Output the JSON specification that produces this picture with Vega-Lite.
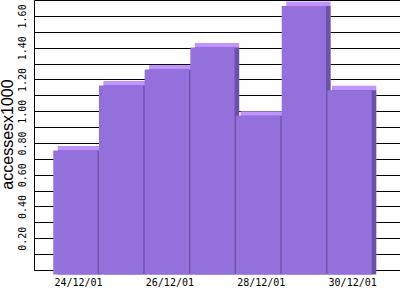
{
  "$schema": "https://vega.github.io/schema/vega-lite/v6.json",
  "width": 366,
  "height": 270,
  "autosize": {"type": "none"},
  "padding": {"left": 34, "top": 0, "right": 0, "bottom": 30},
  "background": "white",
  "config": {"view": {"stroke": null}},
  "data": {
    "values": [
      {"date": "24/12/01", "value": 0.78},
      {"date": "25/12/01", "value": 1.19},
      {"date": "26/12/01", "value": 1.29},
      {"date": "27/12/01", "value": 1.43},
      {"date": "28/12/01", "value": 1.0},
      {"date": "29/12/01", "value": 1.69},
      {"date": "30/12/01", "value": 1.16}
    ]
  },
  "encoding": {
    "x": {
      "field": "date",
      "type": "ordinal",
      "sort": null,
      "scale": {"type": "band", "paddingInner": 0.03, "paddingOuter": 0.52},
      "axis": {
        "title": null,
        "values": ["24/12/01", "26/12/01", "28/12/01", "30/12/01"],
        "ticks": false,
        "domainColor": "black",
        "domainWidth": 1,
        "labelAngle": 0,
        "labelAlign": "left",
        "labelOffset": -25.5,
        "labelPadding": 7,
        "labelFont": "DejaVu Sans Mono",
        "labelFontSize": 10,
        "labelColor": "black",
        "grid": false
      }
    },
    "y": {
      "field": "value",
      "type": "quantitative",
      "scale": {"domain": [0, 1.7], "nice": false},
      "axis": {
        "title": "accessesx1000",
        "titleFont": "Liberation Sans",
        "titleFontSize": 16,
        "titleFontWeight": "normal",
        "titleColor": "black",
        "titleAngle": 270,
        "titleX": -27,
        "titleY": 134,
        "titleAlign": "center",
        "titleBaseline": "middle",
        "values": [0.1, 0.2, 0.3, 0.4, 0.5, 0.6, 0.7, 0.8, 0.9, 1.0, 1.1, 1.2, 1.3, 1.4, 1.5, 1.6, 1.7],
        "format": ".2f",
        "labelExpr": "indexof(['0.20','0.40','0.60','0.80','1.00','1.20','1.40','1.60'], datum.label) >= 0 ? datum.label : ''",
        "labelAngle": 270,
        "labelAlign": "center",
        "labelBaseline": "bottom",
        "labelPadding": 7,
        "labelFont": "DejaVu Sans Mono",
        "labelFontSize": 10,
        "labelColor": "black",
        "ticks": false,
        "grid": true,
        "gridColor": "black",
        "gridOpacity": 1,
        "gridWidth": 1,
        "domainColor": "black",
        "domainWidth": 1
      }
    }
  },
  "layer": [
    {"mark": {"type": "bar", "color": "#c093ff"}},
    {"mark": {"type": "bar", "color": "#6b52a9", "yOffset": 4.5}},
    {"mark": {"type": "bar", "color": "#9370db", "xOffset": -4.5, "yOffset": 4.5}}
  ]
}
